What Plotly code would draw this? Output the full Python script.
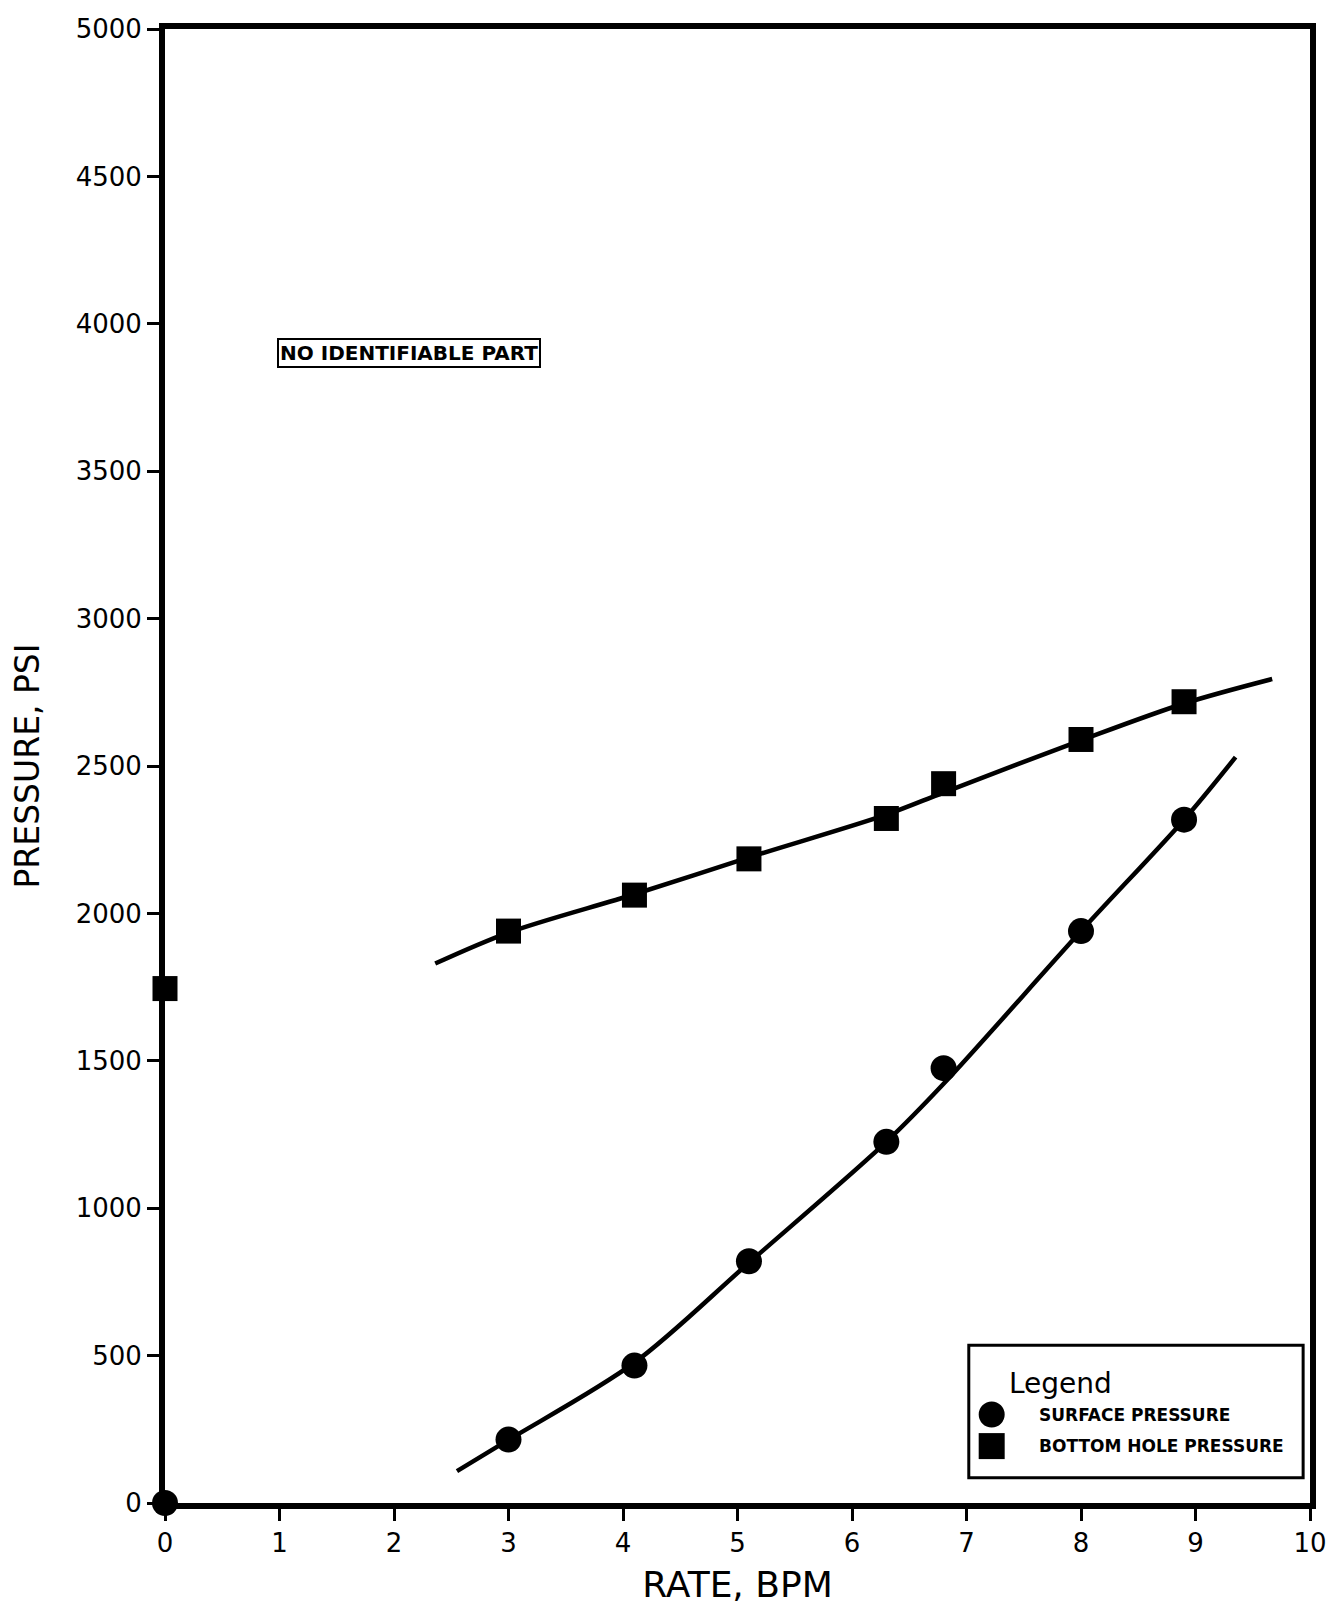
import plotly.graph_objects as go

# measured points (rate in BPM, pressure in psi)
rate = [0, 3.0, 4.1, 5.1, 6.3, 6.8, 8.0, 8.9]
surface_psi = [0, 215, 466, 820, 1225, 1475, 1940, 2318]
bottom_rate = [0, 3.0, 4.1, 5.1, 6.3, 6.8, 8.0, 8.9]
bottom_psi = [1745, 1940, 2062, 2185, 2322, 2440, 2590, 2718]

# hand-drawn fit curves
surface_fit_rate = [2.55, 3.0, 4.1, 5.1, 6.3, 6.8, 8.0, 8.9, 9.35]
surface_fit_psi = [108, 214, 476, 815, 1225, 1422, 1940, 2318, 2530]
bottom_fit_rate = [2.36, 3.0, 4.1, 5.1, 6.3, 6.8, 8.0, 8.9, 9.67]
bottom_fit_psi = [1830, 1935, 2065, 2190, 2335, 2410, 2587, 2712, 2795]

x_ticks = list(range(0, 11))
y_ticks = list(range(0, 5001, 500))

FONT = "DejaVu Sans"

fig = go.Figure()

fig.add_trace(go.Scatter(x=surface_fit_rate, y=surface_fit_psi, mode='lines',
                         line=dict(color='black', width=4.5, shape='spline', smoothing=0.9),
                         showlegend=False, hoverinfo='skip'))
fig.add_trace(go.Scatter(x=bottom_fit_rate, y=bottom_fit_psi, mode='lines',
                         line=dict(color='black', width=4.5, shape='spline', smoothing=0.9),
                         showlegend=False, hoverinfo='skip'))

fig.add_trace(go.Scatter(x=rate, y=surface_psi, mode='markers', name='SURFACE PRESSURE',
                         marker=dict(symbol='circle', size=26, color='black'),
                         cliponaxis=False, showlegend=False))
fig.add_trace(go.Scatter(x=bottom_rate, y=bottom_psi, mode='markers', name='BOTTOM HOLE PRESSURE',
                         marker=dict(symbol='square', size=25, color='black'),
                         cliponaxis=False, showlegend=False))

# label box in the upper left
fig.add_annotation(x=2.13, y=3900, xref='x', yref='y',
                   text='<b>NO IDENTIFIABLE PART</b>', showarrow=False,
                   font=dict(family=FONT, size=20, color='black'),
                   bordercolor='black', borderwidth=2, borderpad=1, bgcolor='white')

# legend box drawn by hand (plotly caps legend symbol size)
fig.add_shape(type='rect', xref='x', yref='y', x0=7.02, x1=9.94, y0=86, y1=535,
              line=dict(color='black', width=3), fillcolor='white', layer='below')
fig.add_annotation(x=7.35, y=407, xref='x', yref='y', xanchor='left', showarrow=False,
                   text='Legend', font=dict(family=FONT, size=28, color='black'))
fig.add_shape(type='circle', xref='x', yref='y', xsizemode='pixel', ysizemode='pixel',
              xanchor=7.22, yanchor=300, x0=-13, x1=13, y0=-13, y1=13,
              fillcolor='black', line=dict(color='black', width=0))
fig.add_shape(type='rect', xref='x', yref='y', xsizemode='pixel', ysizemode='pixel',
              xanchor=7.22, yanchor=193, x0=-13, x1=13, y0=-13, y1=13,
              fillcolor='black', line=dict(color='black', width=0))
fig.add_annotation(x=7.62, y=300, xref='x', yref='y', xanchor='left', showarrow=False,
                   text='<b>SURFACE PRESSURE</b>', font=dict(family=FONT, size=17, color='black'))
fig.add_annotation(x=7.62, y=193, xref='x', yref='y', xanchor='left', showarrow=False,
                   text='<b>BOTTOM HOLE PRESSURE</b>', font=dict(family=FONT, size=17, color='black'))

fig.update_xaxes(range=[0, 10], tickvals=x_ticks, ticks='outside', ticklen=12, tickwidth=3,
                 tickcolor='black', showline=True, linewidth=6, linecolor='black', mirror=True,
                 showgrid=False, zeroline=False,
                 tickfont=dict(family=FONT, size=26, color='black'),
                 title=dict(text='RATE, BPM', font=dict(family=FONT, size=36, color='black'),
                            standoff=17))
fig.update_yaxes(range=[0, 5000], tickvals=y_ticks, ticks='outside', ticklen=12, tickwidth=3,
                 tickcolor='black', showline=True, linewidth=6, linecolor='black', mirror=True,
                 showgrid=False, zeroline=False, ticklabeloverflow='allow',
                 tickfont=dict(family=FONT, size=26, color='black'),
                 title=dict(text='PRESSURE, PSI', font=dict(family=FONT, size=33, color='black'),
                            standoff=35))

fig.update_layout(
    width=1341, height=1604,
    margin=dict(l=157, r=39, t=6, b=109),
    plot_bgcolor='white', paper_bgcolor='white',
    font=dict(family=FONT, color='black'),
    showlegend=False,
)

fig.write_html("out.html")
